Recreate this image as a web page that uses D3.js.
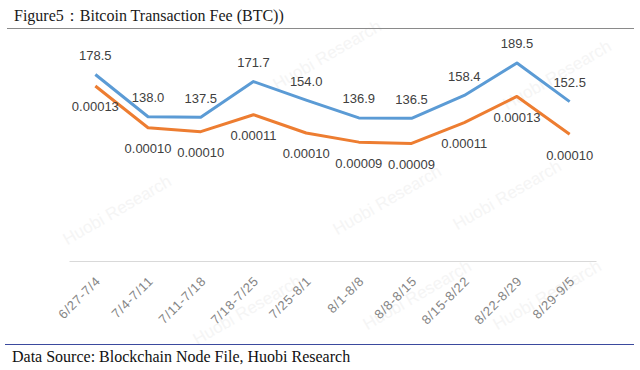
<!DOCTYPE html>
<html>
<head>
<meta charset="utf-8">
<script src="https://cdn.jsdelivr.net/npm/d3@7"></script>
<style>
  body { margin: 0; background: #fff; }
  svg { display: block; }
</style>
</head>
<body>
<div id="chart"></div>
<script>
// weekly periods
const weeks = ["6/27-7/4", "7/4-7/11", "7/11-7/18", "7/18-7/25", "7/25-8/1",
               "8/1-8/8", "8/8-8/15", "8/15-8/22", "8/22-8/29", "8/29-9/5"];
// total fee per week (BTC)
const totalFee = [178.5, 138.0, 137.5, 171.7, 154.0, 136.9, 136.5, 158.4, 189.5, 152.5];
// average fee per transaction (BTC)
const avgFee = [0.000134, 0.000102, 0.000099, 0.000112, 0.000098,
                0.000091, 0.000090, 0.000106, 0.000126, 0.000097];

const width = 640, height = 370;
const svg = d3.select("#chart").append("svg")
    .attr("width", width)
    .attr("height", height);

// faint watermark
const marks = [[390, 205], [510, 200], [250, 315], [420, 300], [550, 300], [120, 215], [330, 60], [560, 80]];
svg.append("g").selectAll("text")
    .data(marks)
    .enter().append("text")
    .attr("transform", d => `translate(${d[0]},${d[1]}) rotate(-30)`)
    .attr("text-anchor", "middle")
    .attr("font-family", "Liberation Sans, Arial, sans-serif")
    .attr("font-size", 17)
    .attr("fill", "#f5f5f5")
    .text("Huobi Research");

// title + rule
svg.append("text")
    .attr("x", 14).attr("y", 21)
    .attr("font-family", "Liberation Serif, Times New Roman, serif")
    .attr("font-size", 16)
    .attr("fill", "#1a1a1a")
    .text("Figure5：Bitcoin Transaction Fee (BTC))");

svg.append("line")
    .attr("x1", 7).attr("x2", 634)
    .attr("y1", 28.5).attr("y2", 28.5)
    .attr("stroke", "#8a8a8a").attr("stroke-width", 1.2);

const x = d3.scaleBand().domain(weeks).range([69, 596]);
const yFee = d3.scaleLinear().domain([0, 200]).range([261, 52]);
const yAvg = d3.scaleLinear().domain([0, 0.00016]).range([261, 52]);

// category axis
const xAxis = svg.append("g")
    .attr("transform", "translate(0,261)")
    .call(d3.axisBottom(x).tickSize(0).tickPadding(0));
xAxis.select(".domain").attr("stroke", "#d9d9d9").attr("stroke-width", 1.2);
xAxis.selectAll(".tick text")
    .attr("font-family", "Liberation Sans, Arial, sans-serif")
    .attr("font-size", 13)
    .attr("letter-spacing", 0.7)
    .attr("fill", "#858585")
    .attr("text-anchor", "end")
    .attr("dy", 0)
    .attr("transform", "translate(6,21) rotate(-45)");

const cx = d => x(d) + x.bandwidth() / 2;

const feeLine = d3.line().x((d, i) => cx(weeks[i])).y(d => yFee(d));
const avgLine = d3.line().x((d, i) => cx(weeks[i])).y(d => yAvg(d));

svg.append("path")
    .datum(avgFee)
    .attr("d", avgLine)
    .attr("fill", "none")
    .attr("stroke", "#ed7d31")
    .attr("stroke-width", 3)
    .attr("stroke-linejoin", "round");

svg.append("path")
    .datum(totalFee)
    .attr("d", feeLine)
    .attr("fill", "none")
    .attr("stroke", "#5b9bd5")
    .attr("stroke-width", 3)
    .attr("stroke-linejoin", "round");

const labelFont = "Liberation Sans, Arial, sans-serif";

svg.append("g").selectAll("text")
    .data(totalFee)
    .enter().append("text")
    .attr("x", (d, i) => cx(weeks[i]))
    .attr("y", d => yFee(d) - 14.5)
    .attr("text-anchor", "middle")
    .attr("font-family", labelFont)
    .attr("font-size", 13)
    .attr("fill", "#404040")
    .text(d => d.toFixed(1));

svg.append("g").selectAll("text")
    .data(avgFee)
    .enter().append("text")
    .attr("x", (d, i) => cx(weeks[i]))
    .attr("y", d => yAvg(d) + 25.5)
    .attr("text-anchor", "middle")
    .attr("font-family", labelFont)
    .attr("font-size", 13)
    .attr("fill", "#404040")
    .text(d => d.toFixed(5));

// source
svg.append("line")
    .attr("x1", 5).attr("x2", 634)
    .attr("y1", 344.5).attr("y2", 344.5)
    .attr("stroke", "#3b4a9e").attr("stroke-width", 1.2);

svg.append("text")
    .attr("x", 12).attr("y", 362)
    .attr("font-family", "Liberation Serif, Times New Roman, serif")
    .attr("font-size", 16)
    .attr("fill", "#111")
    .text("Data Source: Blockchain Node File, Huobi Research");
</script>
</body>
</html>
